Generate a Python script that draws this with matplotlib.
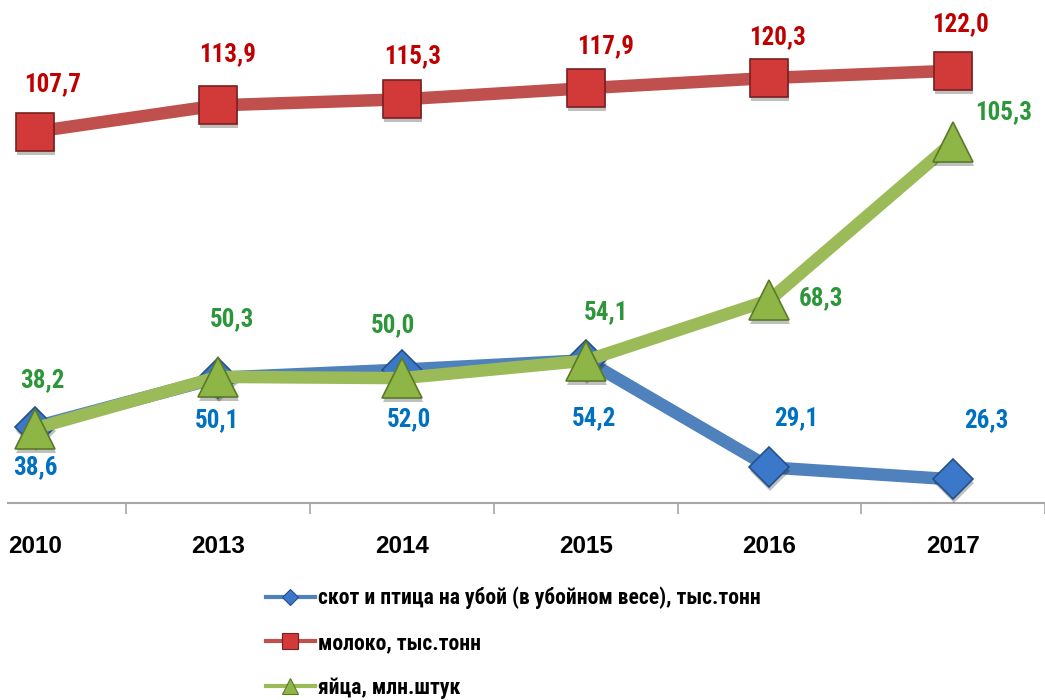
import matplotlib.pyplot as plt
from matplotlib.lines import Line2D
from matplotlib import transforms

# Data for the chart
years = ["2010", "2013", "2014", "2015", "2016", "2017"]
livestock = [38.6, 50.1, 52.0, 54.2, 29.1, 26.3]
milk = [107.7, 113.9, 115.3, 117.9, 120.3, 122.0]
eggs = [38.2, 50.3, 50.0, 54.1, 68.3, 105.3]
names = ["скот и птица на убой (в убойном весе), тыс.тонн",
         "молоко, тыс.тонн",
         "яйца, млн.штук"]

# label offsets in pixels (right, down) from the point
off_livestock = [(1, 40), (-1, 42), (7, 50), (8, 58), (27, -49), (33, -59)]
off_milk = [(18, -48), (9, -51), (11, -43), (20, -42), (8, -41), (7, -47)]
off_eggs = [(8, -48), (14, -58), (-9, -53), (20, -48), (52, -2), (50, -30)]

narrow = ["Roboto Condensed", "DejaVu Sans"]
wide = ["Liberation Sans", "DejaVu Sans"]

fig = plt.figure(figsize=(10.45, 7), dpi=100)
ax = fig.add_axes([8 / 1045, 197 / 700, 1037 / 1045, 503 / 700])
x = list(range(len(years)))

series = [
    (livestock, "#4F81BD", "#3B78C9", "#24508A", "D", 20, "#0070C0", off_livestock),
    (milk, "#C0504D", "#D23A3A", "#7A1F1F", "s", 28, "#C00000", off_milk),
    (eggs, "#9BBB59", "#8DB646", "#5A7A28", "^", 29, "#2E963A", off_eggs),
]

handles = []
for k, (vals, lc, fc, ec, mk, ms, tc, offs) in enumerate(series):
    z = 3 + k * 2
    ax.plot(x, vals, color=lc, lw=9, solid_capstyle="butt", zorder=z, clip_on=False)
    shadow = transforms.offset_copy(ax.transData, fig=fig, x=1, y=-4, units="dots")
    ax.plot(x, vals, ls="none", marker=mk, ms=ms, color="#000000", alpha=0.25,
            mew=0, transform=shadow, zorder=z + 0.5, clip_on=False)
    ax.plot(x, vals, ls="none", marker=mk, ms=ms, mfc=fc, mec=ec, mew=1.2,
            zorder=z + 1, clip_on=False)
    for xi, v, (dx, dy) in zip(x, vals, offs):
        ax.annotate(f"{v:.1f}".replace(".", ","), (xi, v),
                    xytext=(dx * 0.72, -dy * 0.72), textcoords="offset points",
                    ha="center", va="center", fontsize=18, fontweight="bold",
                    color=tc, family=narrow, zorder=20)
    handles.append(Line2D([], [], color=lc, lw=3, marker=mk,
                          ms=ms * 0.4, mfc=fc, mec=ec, mew=0.8))

ax.set_xlim(-0.145, 5.424)
ax.set_ylim(20.76, 138.56)
ax.set_xticks(x)
ax.set_xticklabels(years, fontsize=17.5, fontweight="bold", family=wide)
ax.set_xticks([i + 0.5 for i in x], minor=True)
ax.tick_params(axis="x", which="major", length=0, pad=23)
ax.tick_params(axis="x", which="minor", length=8, color="#A6A6A6", width=1.2)
ax.set_yticks([])
for s in ["top", "right", "left"]:
    ax.spines[s].set_visible(False)
ax.spines["bottom"].set_color("#A6A6A6")
ax.spines["bottom"].set_linewidth(1.5)
ax.patch.set_alpha(0)

fig.legend(handles, names, loc="upper left", bbox_to_anchor=(246 / 1045, 1 - 567 / 700),
           frameon=False, handlelength=2.3, handletextpad=0.1, labelspacing=1.05,
           prop={"family": narrow, "size": 15.6, "weight": "bold"})

fig.savefig("out.png", dpi=100)
